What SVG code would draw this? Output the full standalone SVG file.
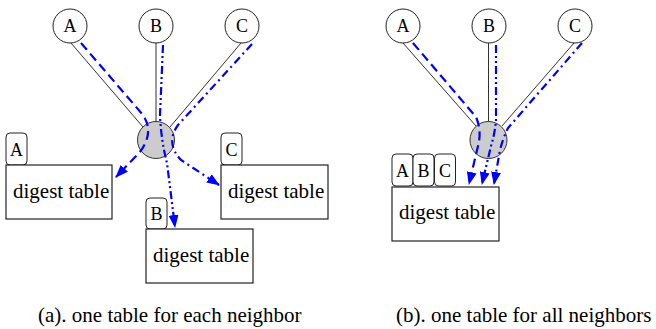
<svg xmlns="http://www.w3.org/2000/svg" width="656" height="329" viewBox="0 0 656 329" font-family="'Liberation Serif', 'Times New Roman', 'DejaVu Serif', serif">
<defs>
<style>
.node{fill:#ffffff;stroke:#222222;stroke-width:1}
.hub{fill:#cccccc;stroke:#333333;stroke-width:1}
.tbl{fill:#ffffff;stroke:#222222;stroke-width:1.2}
.lbl{fill:#ffffff;stroke:#222222;stroke-width:1}
.edge{fill:none;stroke:#333333;stroke-width:1}
.flow{fill:none;stroke:#0000ff;stroke-width:2.2}
.dash{stroke-dasharray:9 5}
.dd{stroke-dasharray:8 3 2 3 2 3}
.dot1{stroke-dasharray:8 4 2 4}
.t18{font-family:'Liberation Serif','Times New Roman',serif;font-size:18px;text-anchor:middle;fill:#000000}
.t21{font-family:'Liberation Serif','Times New Roman',serif;font-size:21px;fill:#000000}
</style>
<marker id="ah" markerWidth="13" markerHeight="10" refX="12" refY="5" orient="auto" markerUnits="userSpaceOnUse">
<path d="M0,0 L13,5 L0,10 z" fill="#0000ff"/>
</marker>
</defs>
<rect width="656" height="329" fill="#ffffff"/>

<g id="a-hub"><circle class="hub" cx="156" cy="140" r="18.5"/></g>
<g id="b-hub"><circle class="hub" cx="488.5" cy="140" r="18.5"/></g>

<g id="connectors">
<line class="edge" x1="71" y1="43" x2="143" y2="127"/>
<line class="edge" x1="156" y1="43" x2="156" y2="121.5"/>
<line class="edge" x1="241" y1="43" x2="170" y2="127"/>
<path class="flow dash" d="M81,43 L143,115 Q155,133 139,153 L116,177" marker-end="url(#ah)"/>
<path class="flow dd" d="M163,45 L160,115 Q161,140 167,163 L175,227" marker-end="url(#ah)"/>
<path class="flow dot1" d="M252,44 L178,125 Q165,143 181,160 L219,185" marker-end="url(#ah)"/>
<line class="edge" x1="403" y1="43" x2="476" y2="126"/>
<line class="edge" x1="488.5" y1="43" x2="488.5" y2="121.5"/>
<line class="edge" x1="574" y1="43" x2="502" y2="126"/>
<path class="flow dash" d="M413,43 L476,117 Q482,131 478,146 L469,184" marker-end="url(#ah)"/>
<path class="flow dd" d="M496,45 L496,120 Q495,133 491,146 L482,184" marker-end="url(#ah)"/>
<path class="flow dot1" d="M582,43 L508,128 Q503,138 500,150 L494,184" marker-end="url(#ah)"/>
</g>

<g id="a-nodeA"><circle class="node" cx="70" cy="26" r="17"/><text class="t18" x="70" y="32">A</text></g>
<g id="a-nodeB"><circle class="node" cx="156" cy="26" r="17"/><text class="t18" x="156" y="32">B</text></g>
<g id="a-nodeC"><circle class="node" cx="242" cy="26" r="17"/><text class="t18" x="242" y="32">C</text></g>
<g id="a-tableA">
<rect class="lbl" x="6" y="133" width="21" height="32" rx="4"/><text class="t18" x="16.5" y="156">A</text>
<rect class="tbl" x="6" y="165" width="106" height="54"/><text class="t21" x="13" y="198">digest table</text>
</g>
<g id="a-tableB">
<rect class="lbl" x="146" y="198" width="21" height="31" rx="4"/><text class="t18" x="156.5" y="220">B</text>
<rect class="tbl" x="146" y="229" width="107" height="54"/><text class="t21" x="153" y="262">digest table</text>
</g>
<g id="a-tableC">
<rect class="lbl" x="221" y="133" width="21" height="32" rx="4"/><text class="t18" x="231.5" y="156">C</text>
<rect class="tbl" x="221" y="165" width="107" height="54"/><text class="t21" x="228" y="198">digest table</text>
</g>

<g id="b-nodeA"><circle class="node" cx="403" cy="26" r="17"/><text class="t18" x="403" y="32">A</text></g>
<g id="b-nodeB"><circle class="node" cx="489" cy="26" r="17"/><text class="t18" x="489" y="32">B</text></g>
<g id="b-nodeC"><circle class="node" cx="575" cy="26" r="17"/><text class="t18" x="575" y="32">C</text></g>
<g id="b-table">
<rect class="lbl" x="392" y="154" width="21" height="32" rx="4"/><text class="t18" x="402.5" y="177">A</text>
<rect class="lbl" x="413" y="154" width="21" height="32" rx="4"/><text class="t18" x="423.5" y="177">B</text>
<rect class="lbl" x="434.5" y="154" width="21" height="32" rx="4"/><text class="t18" x="445" y="177">C</text>
<rect class="tbl" x="392" y="187" width="107" height="54"/><text class="t21" x="399" y="219">digest table</text>
</g>

<g id="captions">
<text class="t21" x="38" y="322">(a). one table for each neighbor</text>
<text class="t21" x="396" y="322">(b). one table for all neighbors</text>
</g>
</svg>
